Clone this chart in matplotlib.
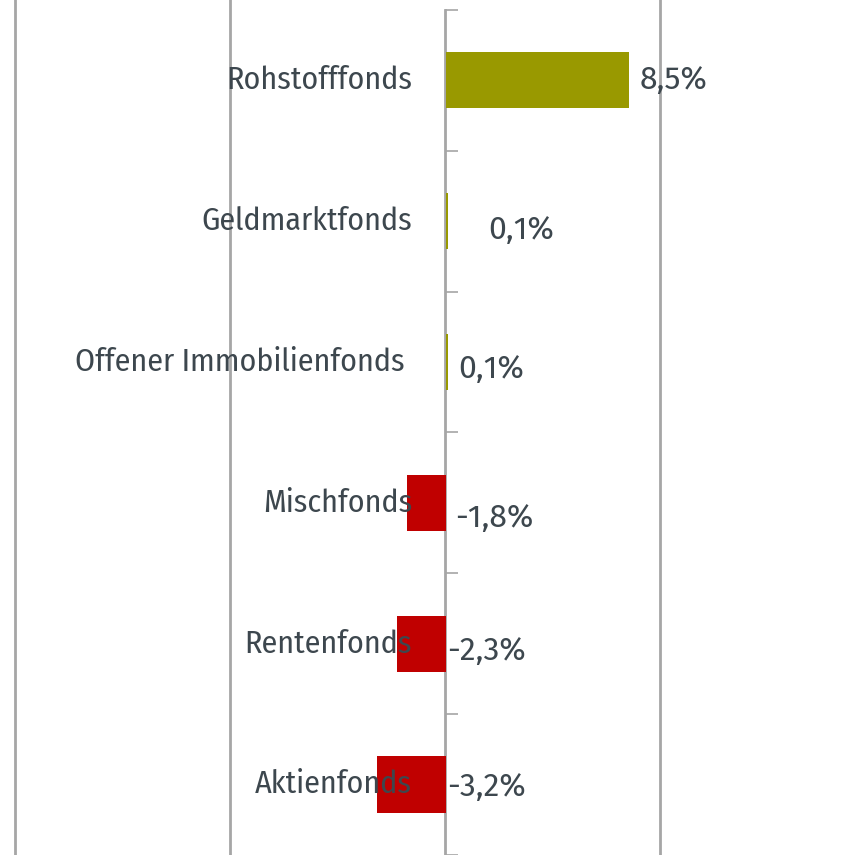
import matplotlib
matplotlib.use("Agg")
import matplotlib.pyplot as plt

categories = ["Rohstofffonds", "Geldmarktfonds", "Offener Immobilienfonds",
              "Mischfonds", "Rentenfonds", "Aktienfonds"]
values = [8.5, 0.1, 0.1, -1.8, -2.3, -3.2]
value_labels = ["8,5%", "0,1%", "0,1%", "-1,8%", "-2,3%", "-3,2%"]

# layout of value labels (x in data units, y offset in category units)
label_x = [9.05, 2.0, 0.6, 0.45, 0.1, 0.1]
label_dy = [0.0, 0.065, 0.05, 0.11, 0.055, 0.02]
# layout of category labels (right edge in data units)
cat_x = [-1.53, -1.53, -1.9, -1.53, -1.53, -1.53]

POS = "#999900"
NEG = "#c00000"
TXT = "#3d474e"
GRID = "#a6a6a6"

fam_cat = ["Fira Sans Condensed", "DejaVu Sans"]
fam_val = ["Fira Sans", "Fira Sans Condensed", "DejaVu Sans"]

fig = plt.figure(figsize=(8.58, 8.55), dpi=100)
ax = fig.add_axes([0, 0, 1, 1])

y = list(range(len(categories)))
colors = [POS if v >= 0 else NEG for v in values]
ax.barh(y, values, height=0.4, color=colors, zorder=4, left=0.05)

ax.set_xlim(-20.7, 19.2)
ax.set_ylim(5.451, -0.57)

for gx in (-20, -10, 10):
    ax.axvline(gx, color=GRID, lw=2, zorder=1)

for s in ("top", "right", "bottom"):
    ax.spines[s].set_visible(False)
ax.spines["left"].set_position(("data", 0))
ax.spines["left"].set_color(GRID)
ax.spines["left"].set_linewidth(2)
ax.spines["left"].set_bounds(5.5, -0.5)
ax.spines["left"].set_zorder(3)
ax.set_yticks([i - 0.5 for i in range(len(categories) + 1)])
ax.set_yticklabels([])
ax.tick_params(axis="y", direction="in", length=9, width=1.2, color=GRID)
ax.set_xticks([])

for i, (c, v, lab) in enumerate(zip(categories, values, value_labels)):
    ax.text(cat_x[i], i, c, ha="right", va="center", fontsize=23,
            color=TXT, family=fam_cat, zorder=5)
    ax.text(label_x[i], i + label_dy[i], lab, ha="left", va="center",
            fontsize=23, fontweight=400, color=TXT, family=fam_val, zorder=5)

fig.savefig("out.png", dpi=100, facecolor="white")
